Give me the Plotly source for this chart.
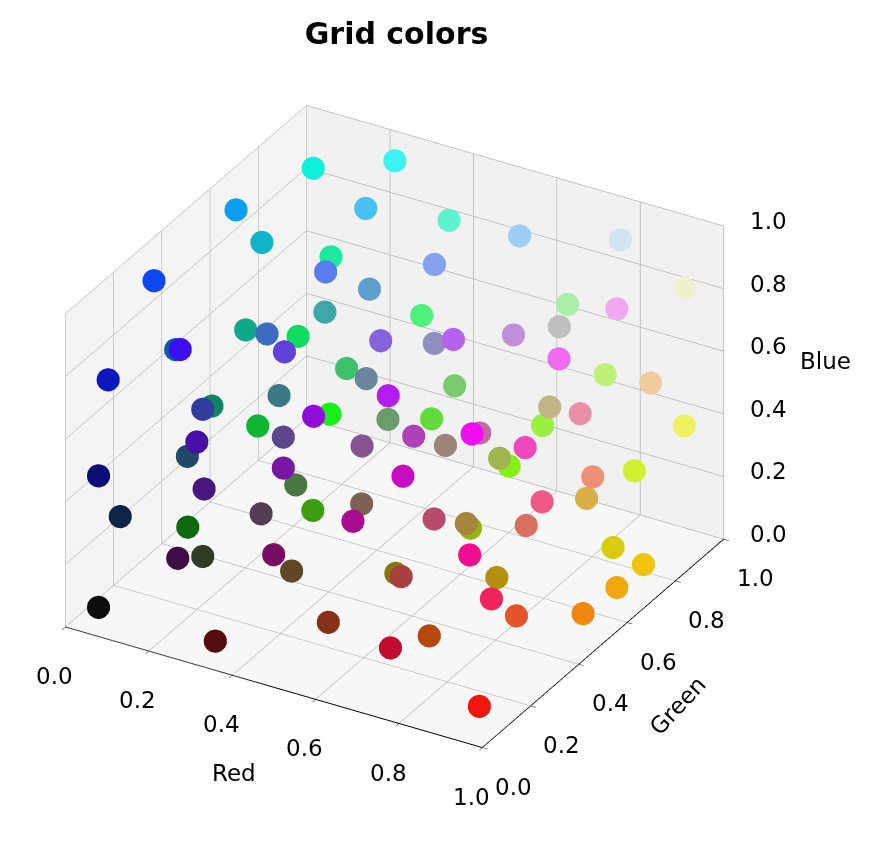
import plotly.graph_objects as go

red = [0.05, 0.24, 0.05, 0.28, 0.06, 0.37, 0.62, 0.81, 0.05, 0.11,
       0.34, 0.52, 0.37, 0.24, 0.66, 0.94, 0.94, 0.24, 0.05, 0.05,
       0.24, 0.06, 0.38, 0.53, 0.31, 0.56, 0.71, 0.75, 0.75, 0.94,
       0.75, 0.94, 0.05, 0.24, 0.42, 0.71, 0.47, 0.24, 0.19, 0.05,
       0.05, 0.36, 0.56, 0.09, 0.52, 0.42, 0.38, 0.69, 0.61, 0.94,
       0.75, 0.63, 0.52, 0.94, 0.60, 0.75, 0.91, 0.94, 0.05, 0.05,
       0.28, 0.13, 0.28, 0.47, 0.28, 0.24, 0.49, 0.78, 0.66, 0.33,
       0.05, 0.24, 0.19, 0.47, 0.38, 0.71, 0.66, 0.56, 0.94, 0.85,
       0.94, 0.82, 0.85, 0.85, 0.94, 0.94, 0.94, 0.94, 0.71, 0.52,
       0.66, 0.94, 0.89, 0.71, 0.75, 0.52, 0.33, 0.05, 0.94]
green = [0.94, 0.95, 0.62, 0.76, 0.71, 0.95, 0.81, 0.90, 0.28, 0.91,
         0.49, 0.63, 0.62, 0.66, 0.94, 0.66, 0.94, 0.06, 0.37, 0.66,
         0.42, 0.86, 0.25, 0.39, 0.94, 0.56, 0.38, 0.56, 0.75, 0.42,
         0.94, 0.80, 0.09, 0.75, 0.52, 0.11, 0.80, 0.47, 0.24, 0.52,
         0.71, 0.28, 0.06, 0.94, 0.33, 0.61, 0.86, 0.25, 0.52, 0.06,
         0.42, 0.71, 0.94, 0.28, 0.94, 0.71, 0.56, 0.94, 0.05, 0.14,
         0.06, 0.28, 0.09, 0.09, 0.47, 0.61, 0.38, 0.05, 0.05, 0.24,
         0.42, 0.05, 0.24, 0.05, 0.28, 0.30, 0.52, 0.71, 0.35, 0.44,
         0.56, 0.94, 0.69, 0.80, 0.77, 0.66, 0.52, 0.05, 0.56, 0.47,
         0.25, 0.14, 0.33, 0.28, 0.05, 0.19, 0.05, 0.05, 0.09]
blue = [0.86, 0.95, 0.94, 0.94, 0.78, 0.81, 0.95, 0.95, 0.94, 0.62,
        0.94, 0.94, 0.81, 0.66, 0.66, 0.94, 0.82, 0.94, 0.66, 0.53,
        0.75, 0.38, 0.86, 0.86, 0.49, 0.75, 0.94, 0.85, 0.75, 0.94,
        0.47, 0.61, 0.75, 0.42, 0.61, 0.94, 0.42, 0.52, 0.61, 0.38,
        0.19, 0.56, 0.85, 0.09, 0.56, 0.42, 0.24, 0.71, 0.47, 0.94,
        0.63, 0.31, 0.09, 0.75, 0.25, 0.52, 0.66, 0.38, 0.47, 0.28,
        0.66, 0.41, 0.49, 0.63, 0.25, 0.06, 0.33, 0.75, 0.56, 0.33,
        0.06, 0.28, 0.14, 0.38, 0.14, 0.42, 0.24, 0.06, 0.53, 0.36,
        0.47, 0.19, 0.28, 0.05, 0.05, 0.05, 0.06, 0.56, 0.06, 0.06,
        0.25, 0.36, 0.16, 0.06, 0.19, 0.09, 0.05, 0.05, 0.05]

tick_vals = [0.0, 0.2, 0.4, 0.6, 0.8, 1.0]
tick_text = ["0.0", "0.2", "0.4", "0.6", "0.8", "1.0"]

colors = ["rgb(%d,%d,%d)" % (round(r * 255), round(g * 255), round(b * 255))
          for r, g, b in zip(red, green, blue)]

fig = go.Figure(go.Scatter3d(
    x=red, y=green, z=blue, mode="markers",
    marker=dict(size=13.5, color=colors, opacity=1, line=dict(width=0)),
    hoverinfo="skip",
))

def axis(bg, ticks="outside", line=True):
    return dict(
        title=dict(text=""),
        range=[0, 1], tickvals=tick_vals, showticklabels=False,
        showbackground=True, backgroundcolor=bg,
        gridcolor="#b4b4b4", gridwidth=1.5,
        showline=line, linecolor="black", linewidth=2,
        zeroline=False, showspikes=False, ticks=ticks,
        tickcolor="black", ticklen=6,
    )

LABEL_FONT = dict(family="DejaVu Sans", size=23, color="black")
annotations = []
for v, t in zip(tick_vals, tick_text):
    annotations.append(dict(x=v, y=0, z=0, text=t, showarrow=False,
                            xshift=-11, yshift=-49, font=LABEL_FONT))
    annotations.append(dict(x=1, y=v, z=0, text=t, showarrow=False,
                            xshift=31, yshift=-39, font=LABEL_FONT))
    annotations.append(dict(x=1, y=1, z=v, text=t, showarrow=False,
                            xshift=44, yshift=5, font=LABEL_FONT))
annotations.append(dict(x=0.5, y=0, z=0, text="Red", showarrow=False,
                        xshift=-40, yshift=-86, font=LABEL_FONT))
annotations.append(dict(x=1, y=0.5, z=0, text="Green", showarrow=False,
                        xshift=75, yshift=-62, textangle=-47, font=LABEL_FONT))
annotations.append(dict(x=1, y=1, z=0.5, text="Blue", showarrow=False,
                        xshift=101, yshift=22, font=LABEL_FONT))

fig.update_layout(
    width=875, height=842,
    paper_bgcolor="white",
    font=dict(family="DejaVu Sans", color="black"),
    title=dict(text="<b>Grid colors</b>", x=0.444, xanchor="center",
               y=0.97, yanchor="middle", font=dict(size=30)),
    margin=dict(l=0, r=0, t=0, b=0),
    showlegend=False,
    scene=dict(
        domain=dict(x=[0.007, 0.877], y=[0.007, 0.999]),
        xaxis=axis("rgb(244,244,244)"),
        yaxis=axis("rgb(241,241,241)"),
        zaxis=axis("rgb(247,247,247)", ticks="", line=False),
        aspectmode="manual",
        aspectratio=dict(x=1.154, y=1.154, z=0.866),
        camera=dict(eye=dict(x=0.59, y=-1.02, z=0.68),
                    center=dict(x=0, y=0, z=0),
                    up=dict(x=0, y=0, z=1),
                    projection=dict(type="orthographic")),
        annotations=annotations,
    ),
)

fig.write_html("out.html")
